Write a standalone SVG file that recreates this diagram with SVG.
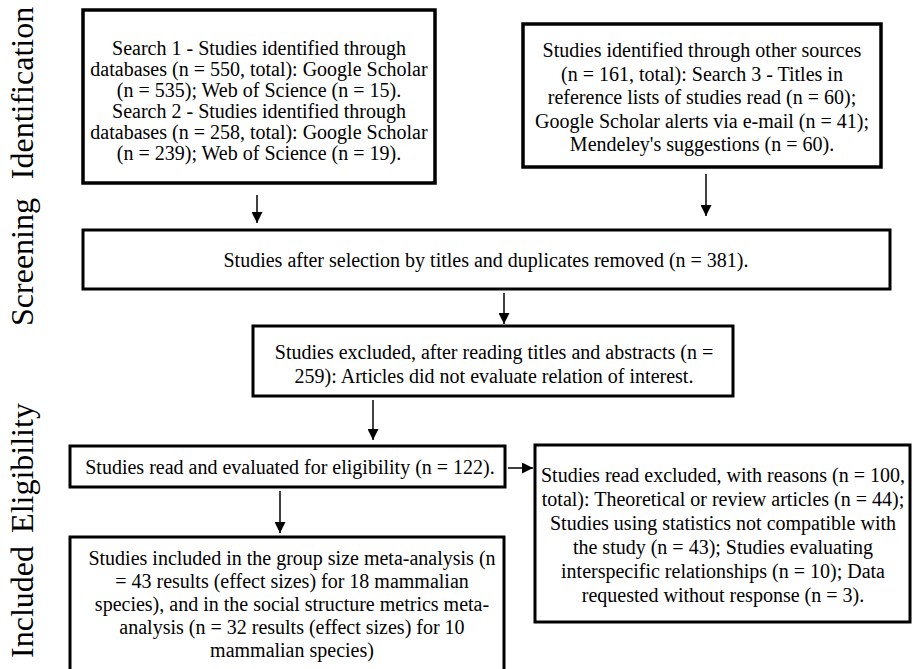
<svg xmlns="http://www.w3.org/2000/svg" width="913" height="669" viewBox="0 0 913 669">
<style>
.box{fill:#fff;stroke:#000;stroke-width:3}
.t{font-family:"Liberation Serif","Times New Roman",serif;font-size:20px;fill:#000;text-anchor:middle}
.lab{font-family:"Liberation Serif","Times New Roman",serif;font-size:32px;fill:#000;text-anchor:middle}
.c{stroke:#000;stroke-width:1.5;fill:none;marker-end:url(#ah)}
</style>
<defs>
<marker id="ah" markerUnits="userSpaceOnUse" markerWidth="11" markerHeight="11" refX="11" refY="5.5" orient="auto">
<path d="M0,0 L11,5.5 L0,11 z" fill="#000"/>
</marker>
</defs>
<rect width="913" height="669" fill="#fff"/>
<g id="labels">
<text class="lab" transform="translate(33,93) rotate(-90)">Identification</text>
<text class="lab" transform="translate(33,262) rotate(-90)">Screening</text>
<text class="lab" transform="translate(33,468) rotate(-90)">Eligibility</text>
<text class="lab" transform="translate(33,602) rotate(-90)">Included</text>
</g>
<g id="connectors">
<line class="c" x1="257" y1="195" x2="257" y2="223"/>
<line class="c" x1="706" y1="174" x2="706" y2="216"/>
<line class="c" x1="504" y1="293" x2="504" y2="324"/>
<line class="c" x1="373" y1="400" x2="373" y2="440"/>
<line class="c" x1="508" y1="468" x2="533" y2="468"/>
<line class="c" x1="280" y1="491" x2="280" y2="533"/>
</g>
<g id="search12">
<rect class="box" x="83" y="10" width="352" height="173" style="stroke-width:3.5"/>
<text class="t" x="259" y="55">Search 1 - Studies identified through</text>
<text class="t" x="259" y="76">databases (n = 550, total): Google Scholar</text>
<text class="t" x="259" y="97">(n = 535); Web of Science (n = 15).</text>
<text class="t" x="259" y="118">Search 2 - Studies identified through</text>
<text class="t" x="259" y="139">databases (n = 258, total): Google Scholar</text>
<text class="t" x="259" y="160">(n = 239); Web of Science (n = 19).</text>
</g>
<g id="other">
<rect class="box" x="523" y="24" width="358" height="143" style="stroke-width:3.5"/>
<text class="t" x="702" y="57">Studies identified through other sources</text>
<text class="t" x="702" y="80.5">(n = 161, total): Search 3 - Titles in</text>
<text class="t" x="702" y="104">reference lists of studies read (n = 60);</text>
<text class="t" x="702" y="127.5">Google Scholar alerts via e-mail (n = 41);</text>
<text class="t" x="702" y="151">Mendeley's suggestions (n = 60).</text>
</g>
<g id="screened">
<rect class="box" x="83" y="230" width="807" height="59"/>
<text class="t" x="486" y="267">Studies after selection by titles and duplicates removed (n = 381).</text>
</g>
<g id="excluded1">
<rect class="box" x="253" y="326" width="480" height="70"/>
<text class="t" x="494" y="359">Studies excluded, after reading titles and abstracts (n =</text>
<text class="t" x="494" y="383">259): Articles did not evaluate relation of interest.</text>
</g>
<g id="eligible">
<rect class="box" x="70" y="446" width="435" height="41"/>
<text class="t" x="290" y="474">Studies read and evaluated for eligibility (n = 122).</text>
</g>
<g id="excluded2">
<rect class="box" x="535" y="445" width="375" height="177"/>
<text class="t" x="723" y="482">Studies read excluded, with reasons (n = 100,</text>
<text class="t" x="723" y="506">total): Theoretical or review articles (n = 44);</text>
<text class="t" x="723" y="530">Studies using statistics not compatible with</text>
<text class="t" x="723" y="554">the study (n = 43); Studies evaluating</text>
<text class="t" x="723" y="578">interspecific relationships (n = 10); Data</text>
<text class="t" x="723" y="602">requested without response (n = 3).</text>
</g>
<g id="included">
<rect class="box" x="70" y="537" width="434" height="140"/>
<text class="t" x="292" y="565">Studies included in the group size meta-analysis (n</text>
<text class="t" x="292" y="588">= 43 results (effect sizes) for 18 mammalian</text>
<text class="t" x="292" y="611">species), and in the social structure metrics meta-</text>
<text class="t" x="292" y="634">analysis (n = 32 results (effect sizes) for 10</text>
<text class="t" x="292" y="657">mammalian species)</text>
</g>
</svg>
